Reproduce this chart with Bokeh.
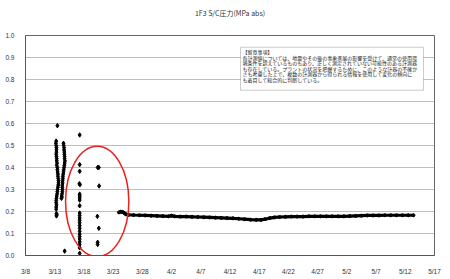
from bokeh.plotting import figure
from bokeh.models import Range1d, FixedTicker, Label, BoxAnnotation, Ellipse, ColumnDataSource, Title
from bokeh.embed import file_html
from bokeh.resources import INLINE

# ---------------- data (x = days since 3/8) ----------------
tick_days = [0, 5, 10, 15, 20, 25, 30, 35, 40, 45, 50, 55, 60, 65, 70]
tick_labels = ["3/8", "3/13", "3/18", "3/23", "3/28", "4/2", "4/7", "4/12",
               "4/17", "4/22", "4/27", "5/2", "5/7", "5/12", "5/17"]

# early scattered readings, 3/13 - 3/14 (two dense columns)
colA_days = [5.46, 5.25, 5.2, 5.25, 5.3, 5.3, 5.3, 5.25, 5.3, 5.35, 5.35, 5.4, 5.35, 5.45,
             5.45, 5.5, 5.55, 5.55, 5.6, 5.65, 5.65, 5.6, 5.55, 5.5, 5.45, 5.4, 5.35, 5.3,
             5.25, 5.25, 5.3, 5.25, 5.25, 5.3, 5.3, 5.35]
colA_vals = [0.59, 0.52, 0.51, 0.50, 0.49, 0.48, 0.47, 0.46, 0.45, 0.44, 0.43, 0.42, 0.41, 0.40,
             0.39, 0.38, 0.37, 0.36, 0.35, 0.34, 0.33, 0.32, 0.31, 0.30, 0.29, 0.28, 0.27, 0.26,
             0.25, 0.24, 0.23, 0.22, 0.21, 0.19, 0.18, 0.185]
colB_days = [6.5, 6.55, 6.6, 6.6, 6.65, 6.65, 6.7, 6.7, 6.75, 6.7, 6.65, 6.6, 6.55, 6.5,
             6.45, 6.4, 6.4, 6.35, 6.35, 6.3, 6.3, 6.3, 6.3, 6.25, 6.2, 6.15, 6.2, 6.7]
colB_vals = [0.51, 0.50, 0.49, 0.48, 0.47, 0.46, 0.45, 0.44, 0.43, 0.42, 0.41, 0.40, 0.39, 0.38,
             0.37, 0.36, 0.35, 0.34, 0.33, 0.32, 0.31, 0.30, 0.29, 0.28, 0.27, 0.26, 0.265, 0.02]
# 3/17 column
colC_days = [9.27, 9.27, 9.27, 9.22, 9.32, 9.27, 9.27, 9.27, 9.27, 9.27, 9.27, 9.27, 9.27,
             9.27, 9.27, 9.27, 9.27, 9.27, 9.27, 9.27, 9.27, 9.27, 9.27, 9.27, 9.27]
colC_vals = [0.548, 0.413, 0.383, 0.326, 0.322, 0.279, 0.271, 0.262, 0.252, 0.226, 0.193, 0.182,
             0.171, 0.160, 0.149, 0.136, 0.124, 0.110, 0.097, 0.086, 0.075, 0.062, 0.050, 0.035, 0.010]
# 3/20 column
colD_days = [12.35, 12.55, 12.6, 12.3, 12.55, 12.35, 12.35]
colD_vals = [0.400, 0.400, 0.316, 0.178, 0.124, 0.060, 0.050]

# continuous record from 3/24
line_days = [16.0, 16.3, 16.6, 16.9, 17.2, 17.6, 18.5, 19.5, 20.5, 21.5, 22.5, 23.5, 24.5, 25.0,
             25.5, 26.5, 27.5, 28.5, 29.5, 30.5, 31.5, 32.5, 33.5, 34.5, 35.5, 36.5, 37.5, 38.5,
             39.5, 40.3, 41.0, 41.8, 42.6, 43.5, 44.5, 45.5, 46.5, 47.5, 48.5, 49.5, 50.5, 51.5,
             52.5, 53.5, 54.5, 55.5, 56.5, 57.5, 58.5, 59.5, 60.5, 61.5, 62.5, 63.5, 64.5, 65.5, 66.4]
line_vals = [0.196, 0.199, 0.198, 0.193, 0.187, 0.185, 0.184, 0.183, 0.182, 0.181, 0.180, 0.179,
             0.178, 0.181, 0.178, 0.177, 0.177, 0.176, 0.175, 0.174, 0.173, 0.172, 0.171, 0.170,
             0.169, 0.167, 0.165, 0.163, 0.162, 0.162, 0.165, 0.170, 0.173, 0.175, 0.176, 0.177,
             0.177, 0.177, 0.178, 0.178, 0.178, 0.178, 0.178, 0.178, 0.178, 0.179, 0.180, 0.181,
             0.182, 0.182, 0.182, 0.183, 0.183, 0.183, 0.183, 0.183, 0.183]

title_text = "1F3 S/C圧力(MPa abs)"
note_lines = [
    "【留意事項】",
    "各計測値については、地震やその後の事象進展の影響を受けて、通常の使用環",
    "境条件を超えているものもあり、正しく測定されていない可能性のある計測器",
    "も存在している。プラントの状況を把握するために、このような計器の不確か",
    "さも考慮した上で、複数の計測器から得られる情報を使用して変化の傾向に",
    "も着目して総合的に判断している。",
]

# ---------------- figure ----------------
X0, X1, Y0, Y1 = 0, 70, 0.0, 1.0
p = figure(width=450, height=279, output_backend="svg", toolbar_location=None,
           x_range=Range1d(X0, X1), y_range=Range1d(Y0, Y1))
p.min_border = 0
p.min_border_left = 25
p.min_border_right = 16
p.min_border_top = 30
p.min_border_bottom = 24
p.background_fill_color = "white"
p.border_fill_color = "white"
p.outline_line_color = "#666666"
p.outline_line_width = 1

# empty spacer panel between frame and title, pushes the title upward
p.add_layout(Title(text=" ", text_font_size="10px", standoff=0), "above")

p.title.text = title_text
p.title.align = "center"
p.title.offset = -5
p.title.text_font = "Noto Sans CJK JP"
p.title.text_font_size = "7px"
p.title.text_font_style = "normal"
p.title.text_color = "#333333"

FW, FH = 450 - 25 - 16, 279 - 30 - 24


def dx(px):  # screen pixel (canvas) -> data x
    return X0 + (px - 25) / FW * (X1 - X0)


def dy(py):  # screen pixel (canvas, from top) -> data y
    return Y0 + (30 + FH - py) / FH * (Y1 - Y0)


p.xgrid.grid_line_color = None
p.ygrid.grid_line_color = "#bdbdbd"
p.ygrid.grid_line_width = 1

p.yaxis.ticker = FixedTicker(ticks=[i / 10 for i in range(11)])
p.yaxis.major_label_overrides = {i / 10: f"{i / 10:.1f}" for i in range(11)}
p.xaxis.ticker = FixedTicker(ticks=tick_days)
p.xaxis.major_label_overrides = {d: l for d, l in zip(tick_days, tick_labels)}

for ax in (p.xaxis[0], p.yaxis[0]):
    ax.axis_line_color = "#555555"
    ax.major_tick_line_color = None
    ax.minor_tick_line_color = None
    ax.major_label_text_font = "Liberation Sans"
    ax.major_label_text_font_size = "6.5px"
    ax.major_label_text_color = "#333333"
p.yaxis.major_label_standoff = 5
p.xaxis.major_label_standoff = 6

# data marks
p.line(line_days, line_vals, line_color="black", line_width=3.2)
p.scatter(line_days, line_vals, marker="circle", size=3, color="black")
for xs, ys in ((colA_days, colA_vals), (colB_days, colB_vals),
               (colC_days, colC_vals), (colD_days, colD_vals)):
    p.scatter(xs, ys, marker="diamond", size=4.5, color="black")

# red ellipse highlighting the questionable readings
ell_src = ColumnDataSource(dict(x=[dx(96.7)], y=[dy(199.7)],
                                w=[(128.3 - 65) / FW * (X1 - X0)], h=[112.7 / FH]))
p.add_glyph(ell_src, Ellipse(x="x", y="y", width="w", height="h",
                             fill_color=None, line_color="#e8221e", line_width=1.5))

# note box
p.add_layout(BoxAnnotation(left=dx(240), right=dx(423), top=dy(42), bottom=dy(86),
                           fill_color="white", fill_alpha=1.0,
                           line_color="#555555", line_width=1, level="overlay"))
for i, t in enumerate(note_lines):
    p.add_layout(Label(x=dx(242), y=dy(46.5 + i * 5.6), text=t, text_align="left",
                       text_baseline="middle", text_font="Noto Sans CJK JP",
                       text_font_size="5px", text_color="#222222", level="overlay"))

open("out.html", "w").write(file_html(p, INLINE))
